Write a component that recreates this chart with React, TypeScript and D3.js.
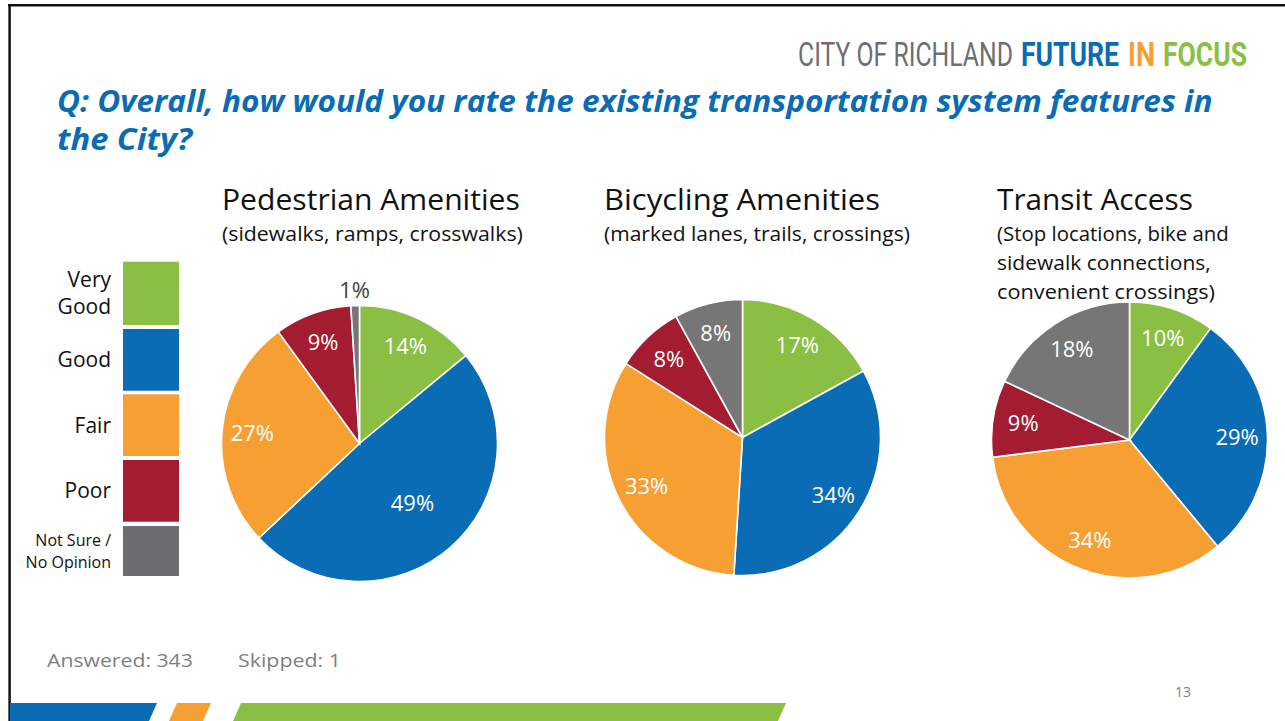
import React, { useEffect, useRef } from "react";
import * as d3 from "d3";

const categories = ["Very Good", "Good", "Fair", "Poor", "Not Sure / No Opinion"];
const legendLines = [["Very", "Good"], ["Good"], ["Fair"], ["Poor"], ["Not Sure /", "No Opinion"]];
const sliceColors = ["#8bbf44", "#0a6cb4", "#f6a034", "#a31c31", "#767676"];
const legendColors = ["#8bbf44", "#0a6cb4", "#f6a034", "#a31c31", "#6c6d70"];

const pedestrian = [14, 49, 27, 9, 1];
const bicycling = [17, 34, 33, 8, 8];
const transit = [10, 29, 34, 9, 18];

const chartTitles = ["Pedestrian Amenities", "Bicycling Amenities", "Transit Access"];
const chartSubtitles = [
  ["(sidewalks, ramps, crosswalks)"],
  ["(marked lanes, trails, crossings)"],
  ["(Stop locations, bike and", "sidewalk connections,", "convenient crossings)"],
];
const seriesList = [pedestrian, bicycling, transit];

const questionLines = [
  "Q: Overall, how would you rate the existing transportation system features in",
  "the City?",
];

const FONT = "'Open Sans', 'Noto Sans', sans-serif";

export default function App() {
  const ref = useRef<SVGSVGElement | null>(null);

  useEffect(() => {
    const svg = d3.select(ref.current);
    svg.selectAll("*").remove();

    // helper: text fitted horizontally to a given width via scaleX transform
    const fitText = (
      x: number, y: number, w: number, txt: string,
      opts: { size: number; fill: string; weight?: number; italic?: boolean; family?: string }
    ) => {
      const t = svg.append("text").attr("x", 0).attr("y", 0)
        .attr("font-family", opts.family || FONT).attr("font-size", opts.size)
        .attr("font-weight", opts.weight || 400)
        .attr("font-style", opts.italic ? "italic" : "normal")
        .attr("fill", opts.fill).text(txt);
      const node = t.node() as SVGTextElement;
      const w0 = node.getComputedTextLength() || w;
      t.attr("transform", `translate(${x},${y}) scale(${w / w0},1)`);
      return t;
    };

    // frame
    svg.append("line").attr("x1", 8).attr("x2", 1285).attr("y1", 5.3).attr("y2", 5.3)
      .attr("stroke", "#111").attr("stroke-width", 2.5);
    svg.append("line").attr("x1", 9.6).attr("x2", 9.6).attr("y1", 4).attr("y2", 721)
      .attr("stroke", "#111").attr("stroke-width", 2.5);

    // header brand
    const brand = [
      { t: "CITY OF RICHLAND", x: 798, w: 215, c: "#6d6e71", b: 400 },
      { t: "FUTURE", x: 1021, w: 98, c: "#0a6cb4", b: 700 },
      { t: "IN", x: 1128, w: 27, c: "#f6a034", b: 700 },
      { t: "FOCUS", x: 1163, w: 84, c: "#8bbf44", b: 700 },
    ];
    brand.forEach((d) => {
      fitText(d.x, 66, d.w, d.t, {
        size: 33, fill: d.c, weight: d.b,
        family: "'Liberation Sans Narrow', 'Roboto', sans-serif",
      });
    });

    // question title
    const qWidths = [1156, 135];
    questionLines.forEach((l, i) => {
      fitText(57, 112 + i * 38, qWidths[i], l, { size: 30, fill: "#0a6cb4", weight: 700, italic: true });
    });

    // legend
    const boxTops = [261.7, 329, 394.3, 460, 526];
    const boxH = [63.3, 61.7, 61.7, 61.7, 50];
    categories.forEach((c, i) => {
      svg.append("rect").attr("x", 123).attr("y", boxTops[i]).attr("width", 56)
        .attr("height", boxH[i]).attr("fill", legendColors[i]);
      const lines = legendLines[i];
      const small = lines[0].startsWith("Not");
      const fs = small ? 16 : 21;
      const lh = small ? 22 : 27;
      const cy = boxTops[i] + boxH[i] / 2;
      lines.forEach((ln, j) => {
        svg.append("text").attr("x", 111).attr("text-anchor", "end")
          .attr("y", cy + (j - (lines.length - 1) / 2) * lh)
          .attr("dy", "0.36em")
          .attr("font-family", FONT).attr("font-size", fs).attr("fill", "#111")
          .text(ln);
      });
    });

    // pies
    const centers = [[359.5, 443.5], [742.5, 437.5], [1129.5, 440]];
    const titleX = [222, 604, 997];
    const titleW = [298, 276, 196];
    const subW = [[301], [306], [232, 214, 218]];
    const R = 138;
    const pie = d3.pie<number>().sort(null).value((d) => d);
    const arc = d3.arc<d3.PieArcDatum<number>>().innerRadius(0).outerRadius(R);

    seriesList.forEach((series, k) => {
      fitText(titleX[k], 210, titleW[k], chartTitles[k], { size: 29, fill: "#111" });
      chartSubtitles[k].forEach((s, j) => {
        fitText(titleX[k], 241 + j * 29, subW[k][j], s, { size: 20, fill: "#111" });
      });

      const g = svg.append("g").attr("transform", `translate(${centers[k][0]},${centers[k][1]})`);
      const arcs = pie(series);
      g.selectAll("path").data(arcs).enter().append("path")
        .attr("d", arc as any)
        .attr("fill", (_d, i) => sliceColors[i])
        .attr("stroke", "#fff").attr("stroke-width", 1.6);

      arcs.forEach((a) => {
        const v = a.data;
        let rr = R * 0.78;
        let fill = "#fff";
        if (v >= 45) rr = R * 0.58;
        if (v < 3) { rr = R + 16; fill = "#404040"; }
        const labelArc = d3.arc<d3.PieArcDatum<number>>().innerRadius(rr).outerRadius(rr);
        const [lx, ly] = labelArc.centroid(a);
        g.append("text").attr("x", lx).attr("y", ly).attr("dy", "0.36em")
          .attr("text-anchor", "middle")
          .attr("font-family", FONT).attr("font-size", 22).attr("fill", fill)
          .text(`${v}%`);
      });
    });

    // footer
    fitText(47, 667, 146, "Answered: 343", { size: 19, fill: "#7f7f7f" });
    fitText(238, 667, 103, "Skipped: 1", { size: 19, fill: "#7f7f7f" });
    svg.append("text").attr("x", 1183).attr("y", 697).attr("text-anchor", "middle")
      .attr("font-family", FONT).attr("font-size", 14).attr("fill", "#7f7f7f").text("13");

    // bottom stripes
    const stripes = [
      { x0: 10, x1: 157, c: "#0a6cb4", first: true },
      { x0: 177, x1: 211, c: "#f6a034", first: false },
      { x0: 241, x1: 786, c: "#8bbf44", first: false },
    ];
    stripes.forEach((s) => {
      const top = 703, bot = 721, sl = 8;
      const leftBot = s.first ? s.x0 : s.x0 - sl;
      svg.append("path")
        .attr("d", `M${s.x0},${top} L${s.x1},${top} L${s.x1 - sl},${bot} L${leftBot},${bot} Z`)
        .attr("fill", s.c);
    });
  }, []);

  return (
    <svg
      ref={ref}
      width={1285}
      height={721}
      style={{ position: "fixed", left: 0, top: 0, background: "#fff" }}
    />
  );
}
